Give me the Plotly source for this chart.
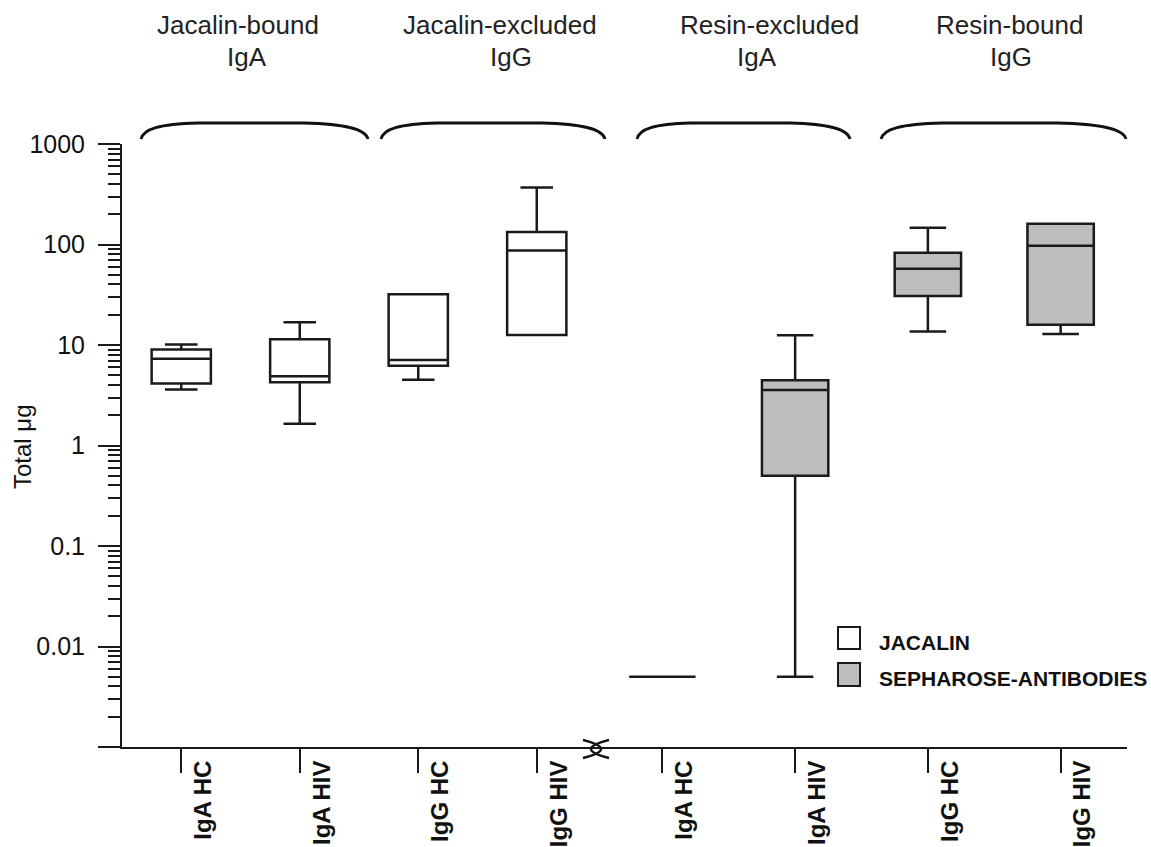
import plotly.graph_objects as go

# ---------------- data ----------------
categories = ["IgA HC", "IgA HIV", "IgG HC", "IgG HIV"]
series_names = ["JACALIN", "SEPHAROSE-ANTIBODIES"]
group_line1 = ["Jacalin-bound", "Jacalin-excluded", "Resin-excluded", "Resin-bound"]
group_line2 = ["IgA", "IgG", "IgA", "IgG"]
y_title = "Total μg"

jac_lower = [3.6, 1.65, 4.5, 12.6]
jac_q1 = [4.15, 4.27, 6.2, 12.6]
jac_median = [7.3, 4.9, 7.1, 87]
jac_q3 = [9.0, 11.4, 32, 133]
jac_upper = [10.1, 16.8, 32, 370]

seph_lower = [0.005, 0.005, 13.6, 12.9]
seph_q1 = [0.005, 0.50, 30.7, 15.9]
seph_median = [0.005, 3.56, 57.5, 97]
seph_q3 = [0.005, 4.47, 83, 161]
seph_upper = [0.005, 12.5, 147, 161]

y_tickvals = [0.001, 0.01, 0.1, 1, 10, 100, 1000]
y_ticktext = ["", "0.01", "0.1", "1", "10", "100", "1000"]
y_minor = [k * 10 ** e for e in range(-3, 3) for k in range(2, 10)]

# ---------------- layout helpers ----------------
W, H = 1151, 847
PL, PR, PT, PB = 122, 1127, 144, 747
SPLIT = 596


def fx(px):
    return (px - PL) / (PR - PL)


def fy(py):
    return (PB - py) / (PB - PT)


FONT = "Arial, Liberation Sans, sans-serif"
LINE = "#1a1a1a"

fig = go.Figure()
fig.add_trace(go.Box(
    x=categories, q1=jac_q1, median=jac_median, q3=jac_q3,
    lowerfence=jac_lower, upperfence=jac_upper,
    name=series_names[0], fillcolor="white",
    line=dict(color=LINE, width=2.5), whiskerwidth=0.55,
    boxpoints=False, xaxis="x", yaxis="y", showlegend=False,
))
fig.add_trace(go.Box(
    x=categories, q1=seph_q1, median=seph_median, q3=seph_q3,
    lowerfence=seph_lower, upperfence=seph_upper,
    name=series_names[1], fillcolor="#bdbdbd",
    line=dict(color=LINE, width=2.5), whiskerwidth=0.55,
    boxpoints=False, xaxis="x2", yaxis="y", showlegend=False,
))

xcommon = dict(
    type="category", range=[-0.5, 3.5], showline=True, linecolor=LINE,
    linewidth=2, ticks="outside", ticklen=24, tickwidth=2, tickcolor=LINE,
    tickangle=-90, tickfont=dict(size=24, family=FONT, weight="bold", color="#111"),
    showgrid=False, zeroline=False, anchor="y", automargin=False,
    ticklabelshift=22, ticklabelstandoff=-22,
)

fig.update_layout(
    width=W, height=H,
    margin=dict(l=PL, r=W - PR, t=PT, b=H - PB, autoexpand=False),
    plot_bgcolor="white", paper_bgcolor="white",
    boxgap=0.5, boxgroupgap=0, boxmode="overlay", showlegend=False,
    font=dict(family=FONT, color="#111"),
    xaxis=dict(domain=[0, fx(SPLIT)], **xcommon),
    xaxis2=dict(domain=[fx(SPLIT), 1], **xcommon),
    yaxis=dict(
        type="log", range=[-3, 3], showline=True, linecolor=LINE, linewidth=2,
        ticks="outside", ticklen=22, tickwidth=2, tickcolor=LINE,
        tickmode="array", tickvals=y_tickvals, ticktext=y_ticktext,
        tickfont=dict(size=25, family=FONT, color="#111"),
        ticklabelstandoff=8, automargin=False,
        showgrid=False, zeroline=False,
        minor=dict(tickmode="array", tickvals=y_minor, ticks="outside",
                   ticklen=12, tickwidth=1.5, tickcolor=LINE, showgrid=False),
    ),
)

# y-axis title
fig.add_annotation(text=y_title, x=fx(22), y=fy(447), xref="paper", yref="paper",
                   showarrow=False, textangle=-90, xanchor="center", yanchor="middle",
                   font=dict(size=24, family=FONT, color="#111"))

# group braces
braces = [(141, 368), (381, 605), (637, 850), (881, 1126)]
yt, yb = 123, 139
for x0, x1 in braces:
    w = x1 - x0
    pts = [
        ("M", [(x0, yb)]),
        ("C", [(x0 + 0.01 * w, yt + 6), (x0 + 0.08 * w, yt + 1), (x0 + 0.25 * w, yt)]),
        ("L", [(x0 + 0.72 * w, yt)]),
        ("C", [(x0 + 0.9 * w, yt + 1), (x1 - 0.01 * w, yt + 6), (x1, yb)]),
    ]
    path = " ".join(
        cmd + " " + " ".join(f"{fx(a):.5f},{fy(b):.5f}" for a, b in p) for cmd, p in pts
    )
    fig.add_shape(type="path", path=path, xref="paper", yref="paper",
                  line=dict(color="#111", width=2.8))

# group labels
l1x = [238, 500, 769, 1009]
l2x = [247, 511, 757, 1011]
for i in range(4):
    fig.add_annotation(text=group_line1[i], x=fx(l1x[i]), y=fy(25), xref="paper", yref="paper",
                       showarrow=False, xanchor="center", yanchor="middle",
                       font=dict(size=26, family=FONT, color="#222"))
    fig.add_annotation(text=group_line2[i], x=fx(l2x[i]), y=fy(57), xref="paper", yref="paper",
                       showarrow=False, xanchor="center", yanchor="middle",
                       font=dict(size=26, family=FONT, color="#222"))

# axis break marker (two bowed strokes crossing)
for (sx, cx) in [(583, 619), (609, 573)]:
    path = (f"M{fx(sx):.5f},{fy(740):.5f} Q{fx(cx):.5f},{fy(749):.5f} "
            f"{fx(sx):.5f},{fy(758):.5f}")
    fig.add_shape(type="path", path=path, xref="paper", yref="paper",
                  line=dict(color="#111", width=2.5))

# legend
leg = [(627, 649, "white"), (663, 686, "#bdbdbd")]
for (y0, y1, col), name in zip(leg, series_names):
    fig.add_shape(type="rect", x0=fx(838), x1=fx(860), y0=fy(y1), y1=fy(y0),
                  xref="paper", yref="paper", fillcolor=col,
                  line=dict(color=LINE, width=2))
    fig.add_annotation(text=name, x=fx(877), y=fy((y0 + y1) / 2 + 4), xref="paper", yref="paper",
                       showarrow=False, xanchor="left", yanchor="middle",
                       font=dict(size=21, family=FONT, weight="bold", color="#111"))

fig.write_html("out.html", config={"displayModeBar": False},
               post_script="document.body.style.margin='0';document.body.style.overflow='hidden';")
